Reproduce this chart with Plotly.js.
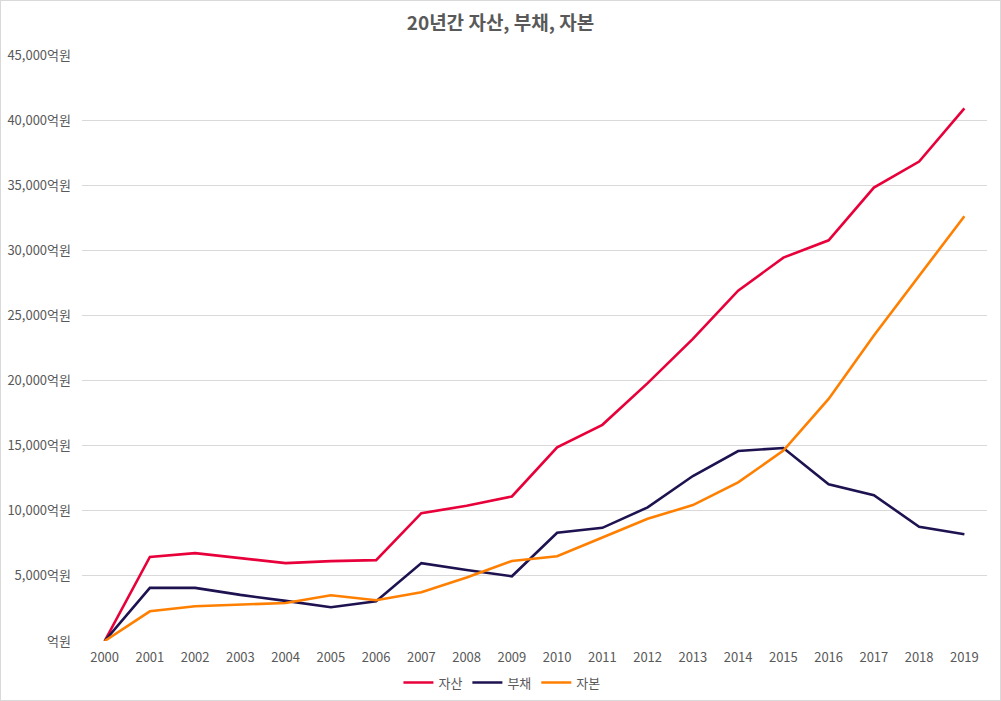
<!DOCTYPE html>
<html>
<head>
<meta charset="utf-8">
<script src="https://cdn.plot.ly/plotly-3.0.1.min.js"></script>
<style>
  body { margin: 0; background: #fff; }
  #chart { width: 999px; height: 699px; border: 1px solid #d9d9d9; }
</style>
</head>
<body>
<div id="chart"></div>
<script>
// 연도
const years = ['2000','2001','2002','2003','2004','2005','2006','2007','2008','2009',
               '2010','2011','2012','2013','2014','2015','2016','2017','2018','2019'];

// 단위: 억원
const assets = [0, 6460, 6750, 6380, 5980, 6130, 6210, 9820, 10380, 11100,
                14870, 16600, 19800, 23200, 26900, 29440, 30770, 34820, 36820, 40900];
const debts = [0, 4080, 4080, 3540, 3080, 2590, 3050, 5980, 5450, 4970,
               8310, 8690, 10260, 12670, 14590, 14820, 12030, 11200, 8770, 8200];
const equity = [0, 2280, 2670, 2820, 2920, 3510, 3130, 3740, 4870, 6150,
                6510, 7950, 9380, 10440, 12180, 14620, 18590, 23460, 28080, 32620];

const yTickVals = [0, 5000, 10000, 15000, 20000, 25000, 30000, 35000, 40000, 45000];
const yTickText = ['억원', '5,000억원', '10,000억원', '15,000억원', '20,000억원',
                   '25,000억원', '30,000억원', '35,000억원', '40,000억원', '45,000억원'];

const font = '"Noto Sans CJK KR", "Noto Sans", sans-serif';

function line(name, y, color) {
  return {
    x: years,
    y: y,
    name: name,
    type: 'scatter',
    mode: 'lines',
    line: { color: color, width: 2.6 }
  };
}

const traces = [
  line('자산', assets, '#e8003a'),
  line('부채', debts, '#1e1250'),
  line('자본', equity, '#ff7f00')
];

const layout = {
  width: 999,
  height: 699,
  paper_bgcolor: '#fff',
  plot_bgcolor: '#fff',
  font: { family: font, color: '#595959', size: 12 },
  margin: { l: 81, r: 13, t: 54, b: 59, autoexpand: false },
  title: {
    text: '<b>20년간 자산, 부채, 자본</b>',
    font: { family: font, size: 19, color: '#595959' },
    x: 0.5,
    xanchor: 'center',
    y: 0.968,
    yanchor: 'middle'
  },
  xaxis: {
    type: 'category',
    range: [-0.5, 19.5],
    showgrid: false,
    zeroline: false,
    showline: false,
    ticks: '',
    tickfont: { size: 13, color: '#595959' },
    ticklabelstandoff: 7
  },
  yaxis: {
    range: [0, 45000],
    tickvals: yTickVals,
    ticktext: yTickText,
    gridcolor: '#d9d9d9',
    gridwidth: 1,
    zeroline: false,
    showline: false,
    ticks: '',
    tickfont: { size: 13, color: '#595959' },
    ticklabelstandoff: 10
  },
  legend: {
    orientation: 'h',
    x: 0.464,
    xanchor: 'center',
    y: -0.071,
    yanchor: 'middle',
    font: { size: 13, color: '#595959' },
    itemwidth: 30
  },
  showlegend: true
};

Plotly.newPlot('chart', traces, layout, { displayModeBar: false, responsive: false });
</script>
</body>
</html>
